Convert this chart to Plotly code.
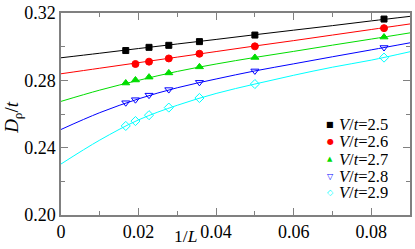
import plotly.graph_objects as go

# ---- data ----
x_25 = [0.0167, 0.0227, 0.0278, 0.0357, 0.0500, 0.0833]
y_25 = [0.2977, 0.2996, 0.3008, 0.3030, 0.3069, 0.3164]
x_26 = [0.0192, 0.0227, 0.0278, 0.0357, 0.0500, 0.0833]
y_26 = [0.2897, 0.2911, 0.2930, 0.2958, 0.3002, 0.3110]
x_all = [0.0167, 0.0192, 0.0227, 0.0278, 0.0357, 0.0500, 0.0833]
y_27 = [0.2784, 0.2802, 0.2819, 0.2844, 0.2880, 0.2936, 0.3057]
y_28 = [0.2667, 0.2685, 0.2712, 0.2745, 0.2788, 0.2856, 0.2995]
y_29 = [0.2529, 0.2558, 0.2593, 0.2638, 0.2695, 0.2778, 0.2935]

# fit curves
fit_x = [0.0, 0.01, 0.02, 0.03, 0.04, 0.05, 0.06, 0.07, 0.08, 0.09]
fit_25 = [0.2934, 0.2961, 0.2989, 0.3016, 0.3043, 0.3071, 0.3098, 0.3125, 0.3153, 0.3180]
fit_26 = [0.2839, 0.2872, 0.2905, 0.2938, 0.2971, 0.3004, 0.3036, 0.3069, 0.3102, 0.3135]
fit_27 = [0.2675, 0.2742, 0.2800, 0.2853, 0.2897, 0.2936, 0.2972, 0.3009, 0.3045, 0.3082]
fit_28 = [0.2508, 0.2608, 0.2690, 0.2756, 0.2808, 0.2856, 0.2898, 0.2940, 0.2981, 0.3023]
fit_29 = [0.2303, 0.2445, 0.2565, 0.2652, 0.2722, 0.2778, 0.2830, 0.2878, 0.2920, 0.2970]

labels = ["2.5", "2.6", "2.7", "2.8", "2.9"]
x_ticks = [0, 0.02, 0.04, 0.06, 0.08]
x_ticktext = ["0", "0.02", "0.04", "0.06", "0.08"]
y_ticks = [0.20, 0.24, 0.28, 0.32]
y_ticktext = ["0.20", "0.24", "0.28", "0.32"]

series = [
    (x_25, y_25, fit_25, "#000000", "square", 6, "■", 8),
    (x_26, y_26, fit_26, "#ff0000", "circle", 7, "●", 8),
    (x_all, y_27, fit_27, "#00dd00", "triangle-up", 7, "▲", 7),
    (x_all, y_28, fit_28, "#0000ff", "triangle-down-open", 7, "▽", 8),
    (x_all, y_29, fit_29, "#00ffff", "diamond-open", 7, "◇", 8),
]

fig = go.Figure()
for xs, ys, fy, col, sym, sz, glyph, gsz in series:
    fig.add_trace(go.Scatter(x=fit_x, y=fy, mode="lines", line=dict(color=col, width=1, shape="spline"),
                             showlegend=False, hoverinfo="skip"))
for xs, ys, fy, col, sym, sz, glyph, gsz in series:
    fig.add_trace(go.Scatter(x=xs, y=ys, mode="markers",
                             marker=dict(symbol=sym, size=sz, color=col, line=dict(color=col, width=1)),
                             showlegend=False))

FONT = "Liberation Serif"
axis_col = "#808080"
common = dict(showgrid=False, zeroline=False, showline=True, linecolor=axis_col, linewidth=1.5,
              mirror="ticks", ticks="inside", ticklen=7, tickwidth=1, tickcolor=axis_col,
              ticklabeloverflow="allow",
              tickfont=dict(family=FONT, size=18, color="black"))
fig.update_xaxes(range=[0, 0.09], tickvals=x_ticks, ticktext=x_ticktext,
                 minor=dict(dtick=0.01, tick0=0, ticks="inside", ticklen=4, tickcolor=axis_col, tickwidth=1),
                 **common)
fig.update_yaxes(range=[0.20, 0.32], tickvals=y_ticks, ticktext=y_ticktext,
                 minor=dict(dtick=0.02, tick0=0.20, ticks="inside", ticklen=4, tickcolor=axis_col, tickwidth=1),
                 **common)

ann = []
# axis titles
ann.append(dict(text="1/<i>L</i>", xref="paper", yref="paper", x=0.356, y=-0.105,
                xanchor="center", yanchor="middle", showarrow=False,
                font=dict(family=FONT, size=17.5, color="black")))
ann.append(dict(text="<i>D</i><sub>ρ</sub>/<i>t</i>", xref="paper", yref="paper", x=-0.138, y=0.485,
                xanchor="center", yanchor="middle", showarrow=False, textangle=-90,
                font=dict(family=FONT, size=19, color="black")))
# legend
leg_y = [0.450, 0.364, 0.277, 0.191, 0.110]
for (xs, ys, fy, col, sym, sz, glyph, gsz), lab, yy in zip(series, labels, leg_y):
    ann.append(dict(text=glyph, xref="paper", yref="paper", x=0.771, y=yy, xanchor="center",
                    yanchor="middle", showarrow=False, font=dict(family="DejaVu Sans", size=gsz, color=col)))
    ann.append(dict(text="<i>V</i>/<i>t</i>=" + lab, xref="paper", yref="paper", x=0.792, y=yy,
                    xanchor="left", yanchor="middle", showarrow=False, height=17,
                    font=dict(family=FONT, size=16.5, color="black")))

fig.update_layout(width=415, height=249, margin=dict(l=61, r=3, t=9, b=34),
                  paper_bgcolor="white", plot_bgcolor="white", annotations=ann, showlegend=False)

fig.write_html("out.html", config={"displayModeBar": False},
               post_script="document.body.style.margin='0';document.body.style.overflow='hidden';")
